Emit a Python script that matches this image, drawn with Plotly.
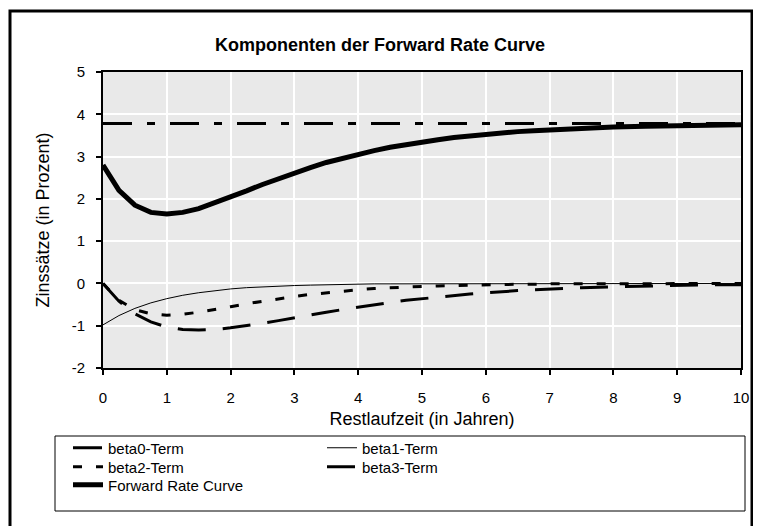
import plotly.graph_objects as go

# Restlaufzeit (years)
t = [0, 0.25, 0.5, 0.75, 1, 1.25, 1.5, 1.75, 2, 2.25, 2.5, 2.75, 3, 3.25, 3.5, 3.75,
     4, 4.25, 4.5, 4.75, 5, 5.25, 5.5, 5.75, 6, 6.25, 6.5, 6.75, 7, 7.5, 8, 8.5, 9, 9.5, 10]

beta0 = [3.78] * len(t)
beta1 = [-0.98, -0.76, -0.59, -0.46, -0.36, -0.28, -0.22, -0.17, -0.13, -0.10, -0.08, -0.06,
         -0.05, -0.04, -0.03, -0.02, -0.02, -0.01, -0.01, -0.01, -0.01, -0.01, 0.0, 0.0,
         0.0, 0.0, 0.0, 0.0, 0.0, 0.0, 0.0, 0.0, 0.0, 0.0, 0.0]
beta2 = [0.0, -0.40, -0.62, -0.72, -0.75, -0.73, -0.68, -0.62, -0.55, -0.48, -0.42, -0.36,
         -0.31, -0.26, -0.22, -0.18, -0.15, -0.12, -0.10, -0.08, -0.07, -0.06, -0.05, -0.04,
         -0.03, -0.03, -0.02, -0.02, -0.01, -0.01, -0.01, 0.0, 0.0, 0.0, 0.0]
beta3 = [0.0, -0.42, -0.72, -0.91, -1.03, -1.09, -1.10, -1.09, -1.05, -1.00, -0.94, -0.88,
         -0.81, -0.75, -0.68, -0.62, -0.56, -0.50, -0.45, -0.40, -0.36, -0.32, -0.28, -0.25,
         -0.22, -0.19, -0.17, -0.15, -0.13, -0.10, -0.08, -0.06, -0.05, -0.03, -0.03]
forward = [2.80, 2.20, 1.85, 1.68, 1.64, 1.68, 1.77, 1.90, 2.04, 2.19, 2.34, 2.48,
           2.61, 2.74, 2.86, 2.96, 3.06, 3.14, 3.22, 3.29, 3.35, 3.40, 3.45, 3.49,
           3.53, 3.56, 3.59, 3.61, 3.63, 3.67, 3.70, 3.72, 3.73, 3.75, 3.75]

names = ["beta0-Term", "beta1-Term", "beta2-Term", "beta3-Term", "Forward Rate Curve"]

y_ticks = [-2, -1, 0, 1, 2, 3, 4, 5]
y_ticklabels = ["-2", "-1", "0", "1", "2", "3", "4", "5"]

FONT = "Arial, Liberation Sans, sans-serif"

OFF = 8  # page body margin
W, H = 761, 526
# plot area in screenshot coordinates
L_s, R_s, T_s, B_s = 103, 741, 72, 368
L, R, T, B = L_s - OFF, R_s - OFF, T_s - OFF, B_s - OFF
pw, ph = R - L, B - T

def px(x_s):
    return (x_s - OFF - L) / pw

def py(y_s):
    return 1 - (y_s - OFF - T) / ph

series = [beta0, beta1, beta2, beta3, forward]
styles = [
    dict(color="black", width=3, dash="29px,15px,8px,15px"),
    dict(color="black", width=1),
    dict(color="black", width=3, dash="9px,14px"),
    dict(color="black", width=3, dash="28px,17px"),
    dict(color="black", width=5),
]
legend_ids = ["legend", "legend2", "legend3", "legend4", "legend5"]
# legend entry positions (screenshot coords: left of sample, row centre)
col1, col2 = 68, 322
rows = [448, 467, 485]
legend_pos = [(col1, rows[0]), (col2, rows[0]), (col1, rows[1]), (col2, rows[1]), (col1, rows[2])]

fig = go.Figure()
for i in range(5):
    fig.add_trace(go.Scatter(x=t, y=series[i], mode="lines", name=names[i],
                             line=styles[i], legend=legend_ids[i]))

LFS = 15
legend_layout = {}
for i, lid in enumerate(legend_ids):
    lx, ly = legend_pos[i]
    legend_layout[lid] = dict(x=px(lx), xanchor="left", y=py(ly - 16.5), yanchor="top",
                              font=dict(size=LFS, family=FONT, color="black"),
                              bgcolor="rgba(0,0,0,0)", borderwidth=0)

fig.update_layout(
    width=W, height=H,
    margin=dict(l=L, r=W - R, t=T, b=H - B, autoexpand=False),
    paper_bgcolor="white",
    plot_bgcolor="#E9E9E9",
    font=dict(family=FONT, size=15, color="black"),
    title=dict(text="<b>Komponenten der Forward Rate Curve</b>", x=(380 - OFF) / W,
               xanchor="center", y=1 - (45 - OFF) / H, yanchor="middle",
               font=dict(size=18, family=FONT)),
    showlegend=True,
    xaxis=dict(range=[0, 10], dtick=1, tick0=0, showgrid=True, gridcolor="white", gridwidth=2,
               showline=True, linecolor="black", linewidth=2, mirror=True,
               ticks="outside", ticklen=5, tickcolor="black", tickwidth=2,
               ticklabelstandoff=10, zeroline=False, automargin=False,
               tickfont=dict(size=15),
               title=dict(text="Restlaufzeit (in Jahren)", standoff=7, font=dict(size=18))),
    yaxis=dict(range=[-2, 5], tickmode="array", tickvals=y_ticks, ticktext=y_ticklabels,
               showgrid=True, gridcolor="white", gridwidth=2,
               showline=True, linecolor="black", linewidth=2, mirror=True,
               ticks="outside", ticklen=5, tickcolor="black", tickwidth=2,
               ticklabelstandoff=8, zeroline=False, automargin=False,
               tickfont=dict(size=15),
               title=dict(text="Zinssätze (in Prozent)", standoff=17, font=dict(size=18))),
    shapes=[
        dict(type="rect", xref="paper", yref="paper",
             x0=px(10), x1=px(752), y0=py(535), y1=py(11),
             line=dict(color="black", width=3), fillcolor="rgba(0,0,0,0)", layer="above"),
        dict(type="rect", xref="paper", yref="paper",
             x0=px(55), x1=px(745), y0=py(511), y1=py(436),
             line=dict(color="black", width=1), fillcolor="rgba(0,0,0,0)", layer="above"),
    ],
    **legend_layout,
)

fig.write_html("out.html")
